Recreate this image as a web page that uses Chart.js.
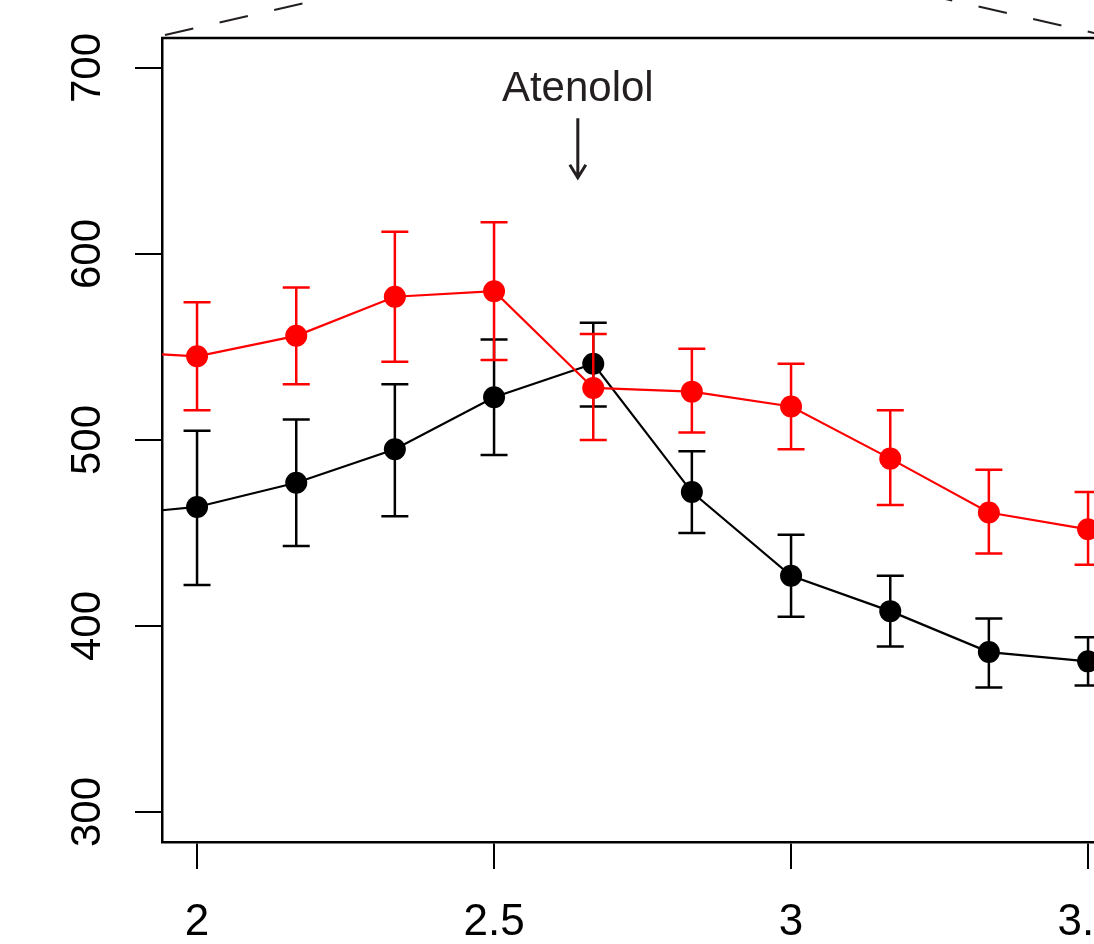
<!DOCTYPE html>
<html>
<head>
<meta charset="utf-8">
<script src="https://cdn.jsdelivr.net/npm/chart.js@4.4.1/dist/chart.umd.min.js"></script>
<style>
    body { margin: 0; background: #fff; }
    #wrap { width: 1094px; height: 944px; }
</style>
</head>
<body>
<div id="wrap"><canvas id="chart"></canvas></div>
<script>
// values (first and last points sit just outside the visible window)
const timePoints = [1.833, 2, 2.167, 2.333, 2.5, 2.667, 2.833, 3, 3.167, 3.333, 3.5, 3.667];

const redMean  = [548, 545, 556, 577, 580, 528, 526, 518, 490, 461, 452, 450];
const redUpper = [578, 574, 582, 612, 617, 557, 549, 541, 516, 484, 472, 470];
const redLower = [518, 516, 530, 542, 543, 500, 504, 495, 465, 439, 433, 430];

const blackMean  = [459, 464, 477, 495, 523, 541, 472, 427, 408, 386, 381, 378];
const blackUpper = [500, 505, 511, 530, 554, 563, 494, 449, 427, 404, 394, 392];
const blackLower = [418, 422, 443, 459, 492, 518, 450, 405, 389, 367, 368, 364];

const xTicks = [2, 2.5, 3, 3.5];
const xTickLabels = ['2', '2.5', '3', '3.5'];
const yTicks = [300, 400, 500, 600, 700];
const yTickLabels = ['300', '400', '500', '600', '700'];

const annotationText = 'Atenolol';
const annotationX = 2.641;
const annotationTextY = 682;
const arrowTop = 673;
const arrowBottom = 641;

document.addEventListener('DOMContentLoaded', function () {
    const ctx = document.getElementById('chart').getContext('2d');
    const fontFamily = '"Liberation Sans", Arial, Helvetica, sans-serif';

    function toPoints(values) {
        return timePoints.map(function (t, i) { return { x: t, y: values[i] }; });
    }

    const bounds = [
        { upper: redUpper, lower: redLower, color: '#ff0000' },
        { upper: blackUpper, lower: blackLower, color: '#000000' }
    ];

    const decorPlugin = {
        id: 'decor',
        // error bars go under each series' own line and points
        beforeDatasetDraw(chart, args) {
            const c = chart.ctx;
            const area = chart.chartArea;
            const yScale = chart.scales.y;
            const b = bounds[args.index];
            c.save();
            c.beginPath();
            c.rect(area.left, area.top, area.right - area.left, area.bottom - area.top);
            c.clip();
            c.strokeStyle = b.color;
            c.lineWidth = 2.5;
            args.meta.data.forEach(function (pt, i) {
                const top = yScale.getPixelForValue(b.upper[i]);
                const bottom = yScale.getPixelForValue(b.lower[i]);
                c.beginPath();
                c.moveTo(pt.x, top);
                c.lineTo(pt.x, bottom);
                c.moveTo(pt.x - 13.5, top);
                c.lineTo(pt.x + 13.5, top);
                c.moveTo(pt.x - 13.5, bottom);
                c.lineTo(pt.x + 13.5, bottom);
                c.stroke();
            });
            c.restore();
        },
        afterDraw(chart) {
            const c = chart.ctx;
            const area = chart.chartArea;
            const xScale = chart.scales.x;
            const yScale = chart.scales.y;
            c.save();

            // top edge of the box
            c.strokeStyle = '#000';
            c.lineWidth = 2.5;
            c.beginPath();
            c.moveTo(area.left - 1, area.top);
            c.lineTo(area.right, area.top);
            c.stroke();

            // dashed zoom guides
            c.lineWidth = 2;
            c.strokeStyle = '#231f20';
            c.setLineDash([29, 27]);
            c.beginPath();
            c.moveTo(area.left + 3, area.top - 3);
            c.lineTo(area.left + 178, area.top - 43);
            c.stroke();
            c.beginPath();
            c.moveTo(area.right + 22, area.top);
            c.lineTo(area.right - 153, area.top - 40);
            c.stroke();
            c.setLineDash([]);

            // y tick labels, vertical
            c.fillStyle = '#000';
            c.font = '42px ' + fontFamily;
            c.textAlign = 'center';
            c.textBaseline = 'alphabetic';
            yTicks.forEach(function (v, i) {
                c.save();
                c.translate(area.left - 62, yScale.getPixelForValue(v));
                c.rotate(-Math.PI / 2);
                c.fillText(yTickLabels[i], 0, 0);
                c.restore();
            });

            // x tick labels
            c.font = '44px ' + fontFamily;
            xTicks.forEach(function (v, i) {
                c.fillText(xTickLabels[i], xScale.getPixelForValue(v), area.bottom + 93);
            });

            // Atenolol marker
            const ax = xScale.getPixelForValue(annotationX);
            c.fillStyle = '#231f20';
            c.font = '42px ' + fontFamily;
            c.fillText(annotationText, ax, yScale.getPixelForValue(annotationTextY));
            const y0 = yScale.getPixelForValue(arrowTop);
            const y1 = yScale.getPixelForValue(arrowBottom);
            c.strokeStyle = '#231f20';
            c.lineWidth = 3;
            c.beginPath();
            c.moveTo(ax, y0);
            c.lineTo(ax, y1);
            c.moveTo(ax - 8, y1 - 13);
            c.lineTo(ax, y1);
            c.lineTo(ax + 8, y1 - 13);
            c.stroke();

            c.restore();
        }
    };

    new Chart(ctx, {
        type: 'line',
        data: {
            datasets: [
                {
                    label: 'red',
                    data: toPoints(redMean),
                    borderColor: '#ff0000',
                    backgroundColor: '#ff0000',
                    borderWidth: 2.2,
                    pointRadius: 11,
                    pointBorderWidth: 0,
                    pointHoverRadius: 11,
                    tension: 0,
                    clip: 0
                },
                {
                    label: 'black',
                    data: toPoints(blackMean),
                    borderColor: '#000000',
                    backgroundColor: '#000000',
                    borderWidth: 2.2,
                    pointRadius: 11,
                    pointBorderWidth: 0,
                    pointHoverRadius: 11,
                    tension: 0,
                    clip: 0
                }
            ]
        },
        options: {
            responsive: true,
            maintainAspectRatio: false,
            animation: false,
            layout: { autoPadding: false, padding: { left: 135, top: 38, right: 0, bottom: 75 } },
            plugins: {
                legend: { display: false },
                tooltip: { enabled: false }
            },
            scales: {
                x: {
                    type: 'linear',
                    min: 1.941,
                    max: 3.510,
                    afterBuildTicks: function (scale) {
                        scale.ticks = xTicks.map(function (v) { return { value: v }; });
                    },
                    ticks: { display: false },
                    grid: {
                        drawOnChartArea: false,
                        drawTicks: true,
                        tickLength: 27,
                        color: '#000',
                        lineWidth: 2
                    },
                    border: { display: true, color: '#000', width: 2.5 }
                },
                y: {
                    min: 283.9,
                    max: 716.1,
                    afterBuildTicks: function (scale) {
                        scale.ticks = yTicks.map(function (v) { return { value: v }; });
                    },
                    ticks: { display: false },
                    grid: {
                        drawOnChartArea: false,
                        drawTicks: true,
                        tickLength: 27,
                        color: '#000',
                        lineWidth: 2
                    },
                    border: { display: true, color: '#000', width: 2.5 }
                }
            }
        },
        plugins: [decorPlugin]
    });
});
</script>
</body>
</html>
